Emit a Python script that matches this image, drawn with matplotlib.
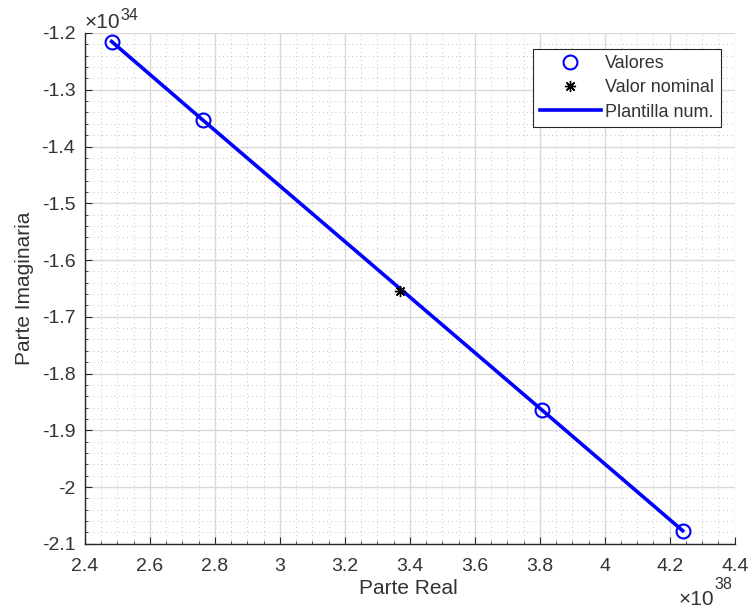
import numpy as np
import matplotlib
matplotlib.use('Agg')
import matplotlib.pyplot as plt
from matplotlib.ticker import MultipleLocator, FuncFormatter

plt.rcParams['font.family'] = ['Liberation Sans', 'DejaVu Sans']

# Polos: parte real (x1e38) y parte imaginaria (x1e34)
re_valores = np.array([2.482, 2.762, 3.808, 4.240]) * 1e38
im_valores = np.array([-1.215, -1.353, -1.865, -2.077]) * 1e34
re_nominal = np.array([3.369]) * 1e38
im_nominal = np.array([-1.654]) * 1e34

XSCALE = 1e38
YSCALE = 1e34
TXT = '#333333'

fig, ax = plt.subplots(figsize=(7.52, 6.11), dpi=100)
fig.subplots_adjust(left=0.113, right=0.977, top=0.946, bottom=0.110)

ax.plot(re_valores, im_valores, 'o', color='blue', mfc='none', ms=10, mew=1.5,
        label='Valores', zorder=4)
ax.plot(re_nominal, im_nominal, linestyle='none', marker=(8, 2, 0), color='black',
        ms=8, mew=1.0, label='Valor nominal', zorder=5)
ax.plot(re_valores, im_valores, '-', color='blue', lw=2.6, label='Plantilla num.', zorder=3)

ax.set_xlim(2.4 * XSCALE, 4.4 * XSCALE)
ax.set_ylim(-2.1 * YSCALE, -1.2 * YSCALE)
ax.xaxis.set_major_locator(MultipleLocator(0.2 * XSCALE))
ax.xaxis.set_minor_locator(MultipleLocator(0.05 * XSCALE))
ax.yaxis.set_major_locator(MultipleLocator(0.1 * YSCALE))
ax.yaxis.set_minor_locator(MultipleLocator(0.02 * YSCALE))
ax.xaxis.set_major_formatter(FuncFormatter(lambda v, p: '%g' % round(v / XSCALE, 4)))
ax.yaxis.set_major_formatter(FuncFormatter(lambda v, p: '%g' % round(v / YSCALE, 4)))

ax.grid(True, which='major', color='#d9d9d9', lw=1.0, ls='-')
ax.grid(True, which='minor', color='#b0b0b0', lw=0.6, ls=(0, (1, 4)))
ax.set_axisbelow(True)

for s in ['top', 'right']:
    ax.spines[s].set_visible(False)
for s in ['left', 'bottom']:
    ax.spines[s].set_color('#262626')
    ax.spines[s].set_linewidth(1.0)

ax.tick_params(which='major', direction='in', length=5, width=0.8, color='#262626',
               labelsize=14, labelcolor=TXT)
ax.tick_params(axis='x', which='major', pad=10)
ax.tick_params(axis='y', which='major', pad=7)
ax.tick_params(which='minor', direction='in', length=2.5, width=0.6, color='#262626')

ax.set_xlabel('Parte Real', fontsize=15, color=TXT, va='center')
ax.xaxis.set_label_coords(0.497, -0.088)
ax.set_ylabel('Parte Imaginaria', fontsize=15, color=TXT, va='center')
ax.yaxis.set_label_coords(-0.093, 0.5)

# Exponentes de los ejes, dibujados a mano: "x10" y el exponente elevado
ax.text(0.0, 1.01, u'\u00d710', transform=ax.transAxes, fontsize=15,
        color=TXT, ha='left', va='baseline')
ax.text(0.054, 1.025, '34', transform=ax.transAxes, fontsize=11.5,
        color=TXT, ha='left', va='baseline')
ax.text(0.968, -0.119, u'\u00d710', transform=ax.transAxes, fontsize=15,
        color=TXT, ha='right', va='baseline')
ax.text(0.969, -0.088, '38', transform=ax.transAxes, fontsize=11.5,
        color=TXT, ha='left', va='baseline')

leg = ax.legend(loc='upper right', bbox_to_anchor=(0.9785, 0.969), fontsize=13,
                frameon=True, fancybox=False, edgecolor='#262626', framealpha=1,
                handlelength=3.4, borderpad=0.35, labelspacing=0.4, handletextpad=0.25,
                borderaxespad=0)
leg.get_frame().set_linewidth(0.8)
for t in leg.get_texts():
    t.set_color(TXT)

fig.savefig('out.png', dpi=100)
